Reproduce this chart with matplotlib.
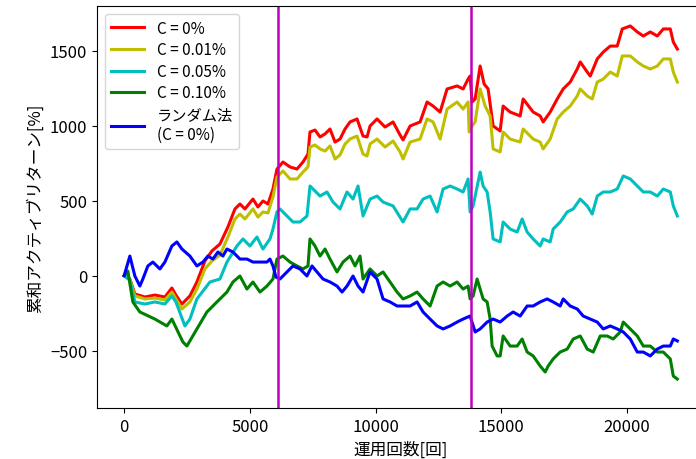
import matplotlib
matplotlib.use("Agg")
import matplotlib.pyplot as plt

plt.rcParams['font.family'] = ['Noto Sans CJK JP', 'DejaVu Sans']

# ---- data ----
red_x = [0, 227, 426, 824, 1222, 1620, 1898, 2058, 2296, 2615, 2893, 3212, 3490, 3809, 4127, 4406, 4605, 4804,
         5122, 5321, 5520, 5719, 5918, 6077, 6316, 6595, 6873, 7112, 7311, 7391, 7590, 7789, 7988, 8187, 8386,
         8585, 8784, 8983, 9262, 9500, 9660, 9779, 10057, 10376, 10694, 10973, 11092, 11371, 11769, 12047,
         12286, 12565, 12843, 13241, 13480, 13679, 13758, 13838, 13958, 14157, 14316, 14475, 14674, 14953,
         15072, 15351, 15749, 15868, 16266, 16545, 16664, 16943, 17222, 17461, 17740, 18018, 18138, 18416,
         18536, 18814, 19053, 19332, 19610, 19809, 20128, 20407, 20646, 20924, 21203, 21442, 21720, 21839, 22000]
red_y = [0, -22, -122, -142, -129, -142, -82, -129, -189, -135, -42, 98, 165, 211, 325, 445, 478, 445,
         511, 458, 498, 478, 578, 711, 758, 725, 711, 758, 811, 958, 971, 925, 945, 978, 891,
         911, 978, 1025, 1045, 931, 925, 998, 1045, 991, 1025, 938, 905, 998, 1025, 1158,
         1131, 1091, 1245, 1265, 1245, 1311, 1331, 1158, 1178, 1398, 1278, 1245, 998, 965,
         1131, 1091, 1065, 1178, 1091, 1065, 1025, 1091, 1178, 1245, 1291, 1378, 1425, 1358,
         1331, 1445, 1491, 1531, 1531, 1645, 1665, 1625, 1598, 1625, 1598, 1645, 1645, 1558, 1511]

yel_x = [0, 227, 426, 824, 1222, 1620, 1898, 2058, 2296, 2615, 2893, 3212, 3490, 3809, 4127, 4406, 4605, 4804,
         5122, 5321, 5520, 5719, 5918, 6077, 6316, 6595, 6873, 7112, 7311, 7391, 7590, 7789, 7988, 8187, 8386,
         8585, 8784, 8983, 9262, 9500, 9660, 9779, 10057, 10376, 10694, 10973, 11092, 11371, 11769, 12047,
         12286, 12565, 12843, 13241, 13480, 13679, 13719, 13838, 13958, 14157, 14356, 14555, 14674, 14953,
         15072, 15351, 15749, 15868, 16266, 16545, 16664, 16943, 17222, 17461, 17740, 18018, 18138, 18416,
         18615, 18814, 19053, 19332, 19610, 19809, 20128, 20407, 20646, 20924, 21203, 21442, 21720, 21839, 22000]
yel_y = [0, -29, -135, -155, -149, -162, -109, -155, -222, -175, -89, 45, 98, 138, 258, 378, 411, 378,
         445, 391, 425, 418, 525, 658, 698, 645, 645, 691, 725, 858, 871, 845, 831, 865, 778,
         805, 878, 911, 931, 811, 798, 878, 911, 858, 898, 825, 778, 891, 911, 1045,
         1025, 911, 1111, 1158, 1111, 1158, 958, 998, 1025, 1245, 1131, 1065, 845, 825,
         958, 911, 891, 978, 911, 891, 845, 911, 1045, 1091, 1131, 1198, 1245, 1198,
         1178, 1291, 1311, 1358, 1331, 1465, 1465, 1425, 1398, 1378, 1398, 1445, 1445, 1358, 1291]

cya_x = [0, 227, 426, 824, 1222, 1620, 1898, 2058, 2416, 2615, 2893, 3411, 3809, 4088, 4485, 4724, 5003, 5281,
         5520, 5799, 5918, 6077, 6197, 6475, 6714, 6993, 7271, 7391, 7510, 7789, 8067, 8306, 8585, 8863,
         9102, 9301, 9500, 9779, 10057, 10296, 10694, 11092, 11371, 11649, 11888, 12167, 12445, 12684,
         12963, 13241, 13480, 13679, 13758, 13878, 14157, 14276, 14436, 14555, 14674, 14953, 15072, 15351,
         15629, 15828, 16027, 16266, 16545, 16664, 16943, 17062, 17341, 17620, 17859, 18138, 18416, 18615,
         18814, 19053, 19332, 19610, 19849, 20128, 20407, 20646, 20924, 21203, 21442, 21720, 21839, 22000]
cya_y = [0, -29, -175, -189, -175, -189, -135, -175, -335, -289, -155, -42, -22, 91, 198, 245, 198, 258,
         178, 245, 311, 425, 445, 398, 358, 358, 398, 598, 578, 531, 558, 491, 445, 558,
         511, 598, 398, 511, 531, 491, 465, 358, 445, 445, 511, 531, 425, 578,
         598, 578, 558, 645, 425, 465, 691, 598, 558, 425, 245, 225, 358, 311,
         291, 378, 291, 245, 198, 245, 225, 311, 358, 425, 445, 511, 465, 411,
         531, 558, 558, 578, 665, 645, 598, 558, 558, 531, 578, 558, 465, 398]

grn_x = [0, 147, 346, 625, 1222, 1699, 1898, 2336, 2495, 2893, 3291, 3689, 4088, 4326, 4605, 4883, 5122, 5401,
         5679, 5918, 6077, 6316, 6595, 6873, 7112, 7311, 7391, 7590, 7789, 7988, 8187, 8465, 8704, 8983,
         9182, 9381, 9500, 9779, 10057, 10296, 10575, 10853, 11092, 11371, 11649, 11888, 12167, 12445,
         12684, 12963, 13241, 13480, 13679, 13758, 13878, 14037, 14276, 14436, 14555, 14634, 14833, 14953,
         15072, 15351, 15629, 15828, 16027, 16266, 16545, 16744, 16863, 17062, 17341, 17620, 17859, 18138,
         18416, 18655, 18933, 19212, 19451, 19729, 19849, 20128, 20407, 20646, 20924, 21203, 21442, 21720,
         21839, 22000]
grn_y = [0, 31, -175, -242, -289, -335, -289, -442, -469, -355, -242, -175, -109, -42, -2, -89, -42, -109,
         -69, -22, 111, 131, 91, 65, 45, 65, 245, 198, 131, 178, 111, 25, 91, 131,
         65, 131, -22, 45, -2, 25, -42, -109, -155, -135, -109, -155, -202, -69,
         -42, -69, -42, -89, -69, -155, -135, -22, -155, -175, -289, -469, -535, -535,
         -402, -469, -469, -422, -509, -535, -602, -642, -602, -555, -509, -489, -422, -402,
         -489, -509, -402, -402, -422, -375, -309, -355, -402, -469, -469, -509, -509, -555,
         -669, -689]

blu_x = [0, 227, 426, 625, 744, 943, 1142, 1421, 1620, 1898, 2097, 2296, 2615, 2893, 3132, 3331, 3530, 3729,
         3928, 4088, 4326, 4605, 4883, 5122, 5401, 5679, 5799, 5918, 6038, 6197, 6475, 6714, 6993, 7271,
         7470, 7669, 7908, 8187, 8465, 8665, 8863, 9102, 9301, 9500, 9779, 10057, 10296, 10575, 10853,
         11092, 11371, 11649, 11888, 12167, 12445, 12684, 12963, 13241, 13480, 13758, 13958, 14157, 14436,
         14674, 14953, 15231, 15470, 15749, 16027, 16266, 16545, 16823, 17062, 17341, 17461, 17740, 18018,
         18257, 18536, 18814, 19053, 19332, 19610, 19849, 20128, 20407, 20646, 20924, 21203, 21442, 21720,
         21839, 22000]
blu_y = [0, 131, -2, -69, -22, 65, 91, 45, 91, 198, 225, 178, 131, 65, 91, 131, 111, 158,
         131, 178, 158, 111, 111, 91, 91, 91, 111, 65, -9, -22, 25, 65, 45, -2,
         65, 25, -22, -42, -69, -109, -69, -2, -69, -109, 25, -22, -155, -175, -202,
         -202, -202, -175, -242, -289, -335, -355, -335, -309, -289, -269, -375, -355, -309,
         -289, -309, -269, -242, -269, -202, -202, -175, -155, -175, -202, -155, -202, -222,
         -269, -289, -309, -355, -335, -355, -375, -422, -509, -509, -535, -489, -469, -469,
         -422, -435]

series_labels = ['C = 0%', 'C = 0.01%', 'C = 0.05%', 'C = 0.10%', 'ランダム法\n(C = 0%)']
series_colors = ['r', 'y', 'c', 'g', 'b']
vlines_x = [6120, 13800]
xticks = [0, 5000, 10000, 15000, 20000]
yticks = [-500, 0, 500, 1000, 1500]

fig = plt.figure(figsize=(6.96, 4.6), dpi=100)
ax = fig.add_axes([97/696, 51/460, 608/696, 402/460])

data = [(red_x, red_y), (yel_x, yel_y), (cya_x, cya_y), (grn_x, grn_y), (blu_x, blu_y)]
for (xs, ys), lab, col in zip(data, series_labels, series_colors):
    ax.plot(xs, ys, color=col, lw=2.2, label=lab)

for xv in vlines_x:
    ax.axvline(xv, color='m', lw=1.8)

ax.set_xlim(-1080, 23100)
ax.set_ylim(-882, 1798)
ax.set_xticks(xticks)
ax.set_yticks(yticks)
ax.tick_params(labelsize=12)
ax.set_xlabel('運用回数[回]', fontsize=12)
ax.set_ylabel('累和アクティブリターン[%]', fontsize=12)
ax.legend(loc='upper left', fontsize=11, handlelength=2.2, borderpad=0.4, labelspacing=0.3)

fig.savefig('out.png', dpi=100)
